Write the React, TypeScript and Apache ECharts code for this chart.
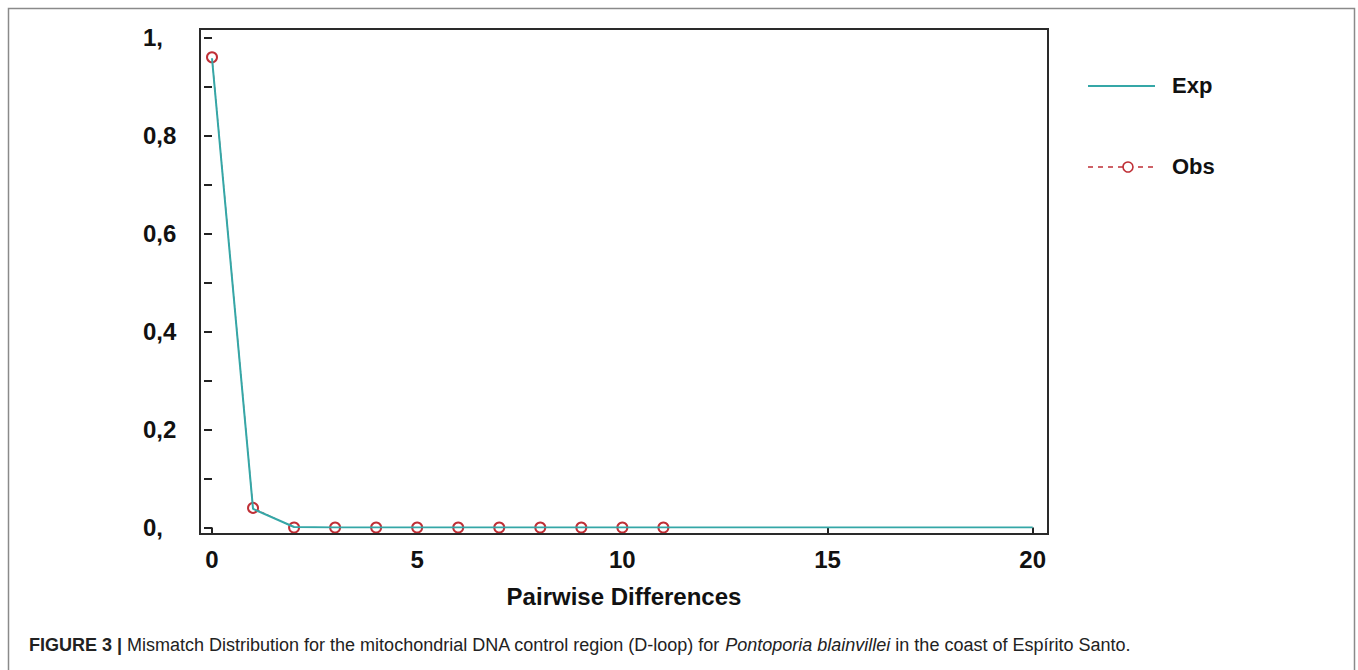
import React, { useEffect, useRef } from "react";
import * as echarts from "echarts";

const expX = [0, 1, 2, 3, 4, 5, 6, 7, 8, 9, 10, 11, 12, 13, 14, 15, 16, 17, 18, 19, 20];
const expY = [0.958, 0.038, 0.001, 0, 0, 0, 0, 0, 0, 0, 0, 0, 0, 0, 0, 0, 0, 0, 0, 0, 0];
const obsX = [0, 1, 2, 3, 4, 5, 6, 7, 8, 9, 10, 11];
const obsY = [0.96, 0.04, 0, 0, 0, 0, 0, 0, 0, 0, 0, 0];
const xTicks = [0, 5, 10, 15, 20];
const seriesNames = ["Exp", "Obs"];
const xTitle = "Pairwise Differences";

const TEAL = "#35a7a7";
const RED = "#bf2f36";
const FONT = "'Liberation Sans', Arial, sans-serif";

export default function App() {
  const ref = useRef<HTMLDivElement>(null);
  useEffect(() => {
    if (!ref.current) return;
    const chart = echarts.init(ref.current, undefined, { renderer: "svg" });
    const yFmt = (v: number) => {
      const k = Math.round(v * 10);
      if (k % 2 !== 0) return "";
      if (k === 0) return "0,";
      if (k === 10) return "1,";
      return "0," + k;
    };
    chart.setOption({
      animation: false,
      backgroundColor: "#ffffff",
      grid: { left: 212, right: 325.3, top: 37.7, bottom: 142.5 },
      xAxis: {
        type: "value",
        min: xTicks[0],
        max: xTicks[xTicks.length - 1],
        interval: 5,
        offset: 6.5,
        axisLine: { show: false },
        axisTick: { show: true, length: 7, lineStyle: { color: "#222", width: 2 } },
        splitLine: { show: false },
        axisLabel: {
          margin: 13,
          color: "#111",
          fontFamily: FONT,
          fontWeight: "bold",
          fontSize: 24,
        },
      },
      yAxis: {
        type: "value",
        min: 0,
        max: 1,
        interval: 0.1,
        offset: 12,
        axisLine: { show: false },
        axisTick: { show: true, length: 8, lineStyle: { color: "#222", width: 2 } },
        splitLine: { show: false },
        axisLabel: {
          margin: 57,
          align: "left",
          formatter: yFmt,
          color: "#111",
          fontFamily: FONT,
          fontWeight: "bold",
          fontSize: 24,
        },
      },
      series: [
        {
          name: seriesNames[1],
          type: "line",
          z: 2,
          data: obsX.map((x, i) => [x, obsY[i]]),
          symbol: "emptyCircle",
          symbolSize: 10,
          showSymbol: true,
          itemStyle: { color: RED, borderColor: RED, borderWidth: 1.6 },
          lineStyle: { color: RED, width: 1, type: "dashed" },
        },
        {
          name: seriesNames[0],
          type: "line",
          z: 3,
          data: expX.map((x, i) => [x, expY[i]]),
          symbol: "none",
          lineStyle: { color: TEAL, width: 2 },
        },
      ],
      graphic: [
        {
          type: "rect",
          shape: { x: 8.5, y: 8.5, width: 1346, height: 700 },
          style: { fill: "none", stroke: "#8a8a8a", lineWidth: 1.5 },
          silent: true,
        },
        {
          type: "rect",
          shape: { x: 200, y: 29, width: 848, height: 505 },
          style: { fill: "none", stroke: "#2a2a2a", lineWidth: 2 },
          silent: true,
          z: 10,
        },
        {
          type: "text",
          x: 624,
          y: 596,
          style: {
            text: xTitle,
            fill: "#111",
            font: `bold 24px ${FONT}`,
            align: "center",
            verticalAlign: "middle",
          },
        },
        {
          type: "line",
          shape: { x1: 1088, y1: 86, x2: 1155, y2: 86 },
          style: { stroke: TEAL, lineWidth: 2 },
        },
        {
          type: "text",
          x: 1172,
          y: 85,
          style: {
            text: seriesNames[0],
            fill: "#111",
            font: `bold 22px ${FONT}`,
            align: "left",
            verticalAlign: "middle",
          },
        },
        {
          type: "line",
          shape: { x1: 1088, y1: 167, x2: 1155, y2: 167 },
          style: { stroke: RED, lineWidth: 1.5, lineDash: [5, 5] },
        },
        {
          type: "circle",
          shape: { cx: 1128, cy: 167, r: 5 },
          style: { fill: "#fff", stroke: RED, lineWidth: 1.6 },
        },
        {
          type: "text",
          x: 1172,
          y: 166,
          style: {
            text: seriesNames[1],
            fill: "#111",
            font: `bold 22px ${FONT}`,
            align: "left",
            verticalAlign: "middle",
          },
        },
        {
          type: "text",
          x: 29,
          y: 645,
          style: {
            text:
              "{b|FIGURE 3 | }{n|Mismatch Distribution for the mitochondrial DNA control region (D-loop) for }{i|Pontoporia blainvillei}{n| in the coast of Espírito Santo.}",
            verticalAlign: "middle",
            align: "left",
            rich: {
              b: { fontFamily: FONT, fontWeight: "bold", fontSize: 18, fill: "#222", color: "#222" },
              n: { fontFamily: FONT, fontSize: 18, fill: "#222", color: "#222" },
              i: { fontFamily: FONT, fontStyle: "italic", fontSize: 18, fill: "#222", color: "#222" },
            },
          },
        },
      ],
    });
    return () => chart.dispose();
  }, []);
  return (
    <div
      ref={ref}
      style={{ position: "absolute", left: 0, top: 0, width: 1358, height: 670 }}
    />
  );
}
